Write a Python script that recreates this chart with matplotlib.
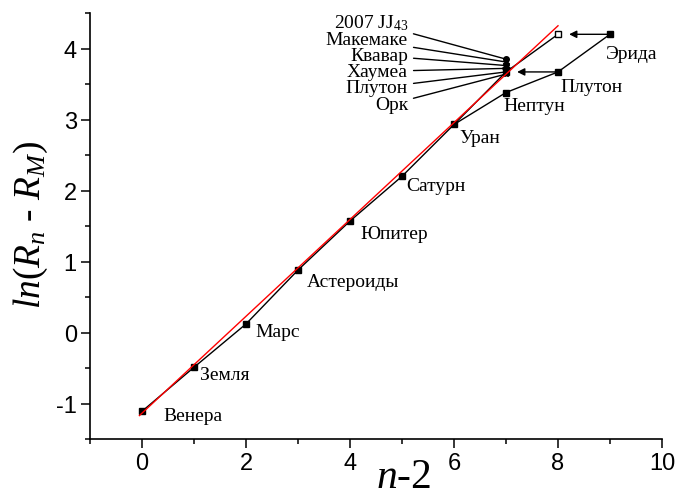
import numpy as np
import matplotlib
matplotlib.use('Agg')
import matplotlib.pyplot as plt
from matplotlib.ticker import MultipleLocator

plt.rcParams['mathtext.fontset'] = 'custom'
plt.rcParams['mathtext.rm'] = 'Liberation Serif'
plt.rcParams['mathtext.it'] = 'Liberation Serif:italic'
plt.rcParams['axes.unicode_minus'] = False

# planets in their original order (n-2 = 0 .. 9)
planets = ['Венера', 'Земля', 'Марс', 'Астероиды', 'Юпитер', 'Сатурн',
           'Уран', 'Нептун', 'Плутон', 'Эрида']
n_minus_2 = [0, 1, 2, 3, 4, 5, 6, 7, 8, 9]
ln_r = [-1.11, -0.49, 0.12, 0.88, 1.57, 2.20, 2.93, 3.38, 3.67, 4.20]

# shifted sequence: Uranus -> Pluto at n-2=7 -> Eris at n-2=8
shifted_x = [6, 7, 8]
shifted_y = [2.93, 3.67, 4.20]

# trans-Neptunian bodies placed at n-2 = 7
tno_names = ['2007 JJ$_{43}$', 'Макемаке', 'Квавар', 'Хаумеа', 'Плутон', 'Орк']
tno_x = [7, 7, 7, 7, 7, 7]
tno_y = [3.85, 3.81, 3.76, 3.72, 3.67, 3.64]

# linear fit (red line) end points
fit_x = [-0.05, 8.0]
fit_y = [-1.17, 4.32]

# label offsets in pixels (dx, dy) relative to each point
planet_offsets = [(21, -4), (6, -7), (9, -8), (9, -11), (10, -12), (4, -9),
                  (5, -13), (-3, -13), (2, -15), (-4, -19)]
tno_offsets = [(-98, 37), (-98, 22), (-98, 10), (-98, -3), (-98, -16), (-98, -30)]
tno_markers = ['o', '^', 'v', 'D', 's', '*']

serif = 'Liberation Serif'

fig = plt.figure(figsize=(6.77, 4.89), dpi=100)
ax = fig.add_axes([90 / 677, 1 - 440 / 489, 572 / 677, 426 / 489])

ax.plot(n_minus_2, ln_r, color='black', lw=1, marker='s', ms=4.5, zorder=3)
ax.plot(shifted_x, shifted_y, color='black', lw=1, zorder=3)
ax.plot(shifted_x[-1], shifted_y[-1], marker='s', ms=5, mfc='white', mec='black',
        mew=1, zorder=4)
for x, y, m in zip(tno_x, tno_y, tno_markers):
    ax.plot(x, y, marker=m, ms=4, color='black', zorder=4)
ax.plot(fit_x, fit_y, color='red', lw=1, zorder=5)

# arrows: Eris and Pluto moved one step left
ax.annotate('', xy=(shifted_x[-1], shifted_y[-1]), xytext=(n_minus_2[9], ln_r[9]),
            arrowprops=dict(arrowstyle='-|>', color='black', lw=1, shrinkA=0,
                            shrinkB=8, mutation_scale=11))
ax.annotate('', xy=(shifted_x[1], shifted_y[1]), xytext=(n_minus_2[8], ln_r[8]),
            arrowprops=dict(arrowstyle='-|>', color='black', lw=1, shrinkA=0,
                            shrinkB=8, mutation_scale=11))

for name, x, y, (dx, dy) in zip(planets, n_minus_2, ln_r, planet_offsets):
    ax.annotate(name, xy=(x, y), xytext=(dx, dy), textcoords='offset pixels',
                ha='left', va='center', fontsize=14, family=serif)

for name, x, y, (dx, dy) in zip(tno_names, tno_x, tno_y, tno_offsets):
    ax.annotate(name, xy=(x, y), xytext=(dx, dy), textcoords='offset pixels',
                ha='right', va='center', fontsize=14, family=serif,
                arrowprops=dict(arrowstyle='-', color='black', lw=1,
                                shrinkA=2, shrinkB=1))

ax.set_xlim(-1, 10)
ax.set_ylim(-1.5, 4.5)
ax.xaxis.set_major_locator(MultipleLocator(2))
ax.xaxis.set_minor_locator(MultipleLocator(1))
ax.yaxis.set_major_locator(MultipleLocator(1))
ax.yaxis.set_minor_locator(MultipleLocator(0.5))

for s in ['top', 'right']:
    ax.spines[s].set_visible(False)
for s in ['left', 'bottom']:
    ax.spines[s].set_linewidth(1.2)

ax.tick_params(which='major', direction='out', length=6.5, width=1.1,
               labelsize=17, pad=3)
ax.tick_params(which='minor', direction='out', length=3.5, width=1.1)
for lab in ax.get_xticklabels() + ax.get_yticklabels():
    lab.set_family('Liberation Sans')

fig.text(31 / 677, 1 - 225 / 489, r'$ln(R_n$ - $R_M)$', rotation=90,
         ha='center', va='center', fontsize=27, family=serif, style='italic')
fig.text(404 / 677, 0.002, r'$n$-2', ha='center', va='baseline',
         fontsize=30, family=serif)

fig.savefig('out.png', dpi=100)
